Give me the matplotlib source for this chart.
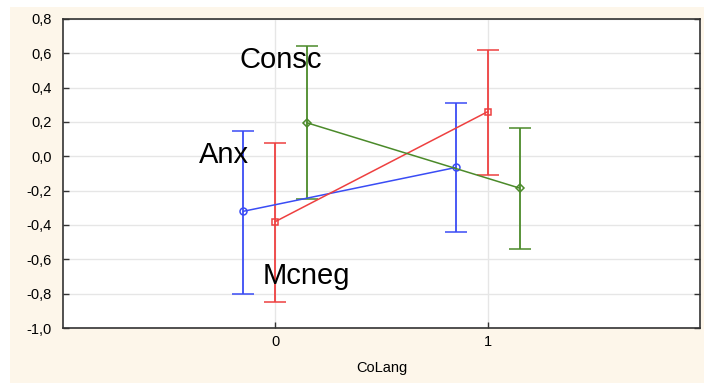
import matplotlib.pyplot as plt
from matplotlib.patches import Rectangle

# group means and interval bounds for each factor at CoLang = 0 / 1
LEVELS = [0, 1]
SERIES = ["Anx", "Mcneg", "Consc"]
OFFSETS = [-0.15, 0.0, 0.15]
MEANS = {
    "Anx": [-0.32, -0.065],
    "Mcneg": [-0.38, 0.26],
    "Consc": [0.195, -0.185],
}
UPPER = {
    "Anx": [0.145, 0.31],
    "Mcneg": [0.075, 0.62],
    "Consc": [0.64, 0.165],
}
LOWER = {
    "Anx": [-0.80, -0.44],
    "Mcneg": [-0.85, -0.11],
    "Consc": [-0.25, -0.54],
}
COLORS = {"Anx": "#3a4cf5", "Mcneg": "#ee4040", "Consc": "#4b8a2a"}
MARKERS = {"Anx": "o", "Mcneg": "s", "Consc": "D"}
LABEL_POS = {"Anx": (-0.36, 0.01), "Mcneg": (-0.06, -0.70), "Consc": (-0.17, 0.56)}
Y_TICKS = [-1.0, -0.8, -0.6, -0.4, -0.2, 0.0, 0.2, 0.4, 0.6, 0.8]

plt.rcParams["font.family"] = ["Liberation Sans", "DejaVu Sans"]

fig = plt.figure(figsize=(7.04, 3.83), dpi=100)
fig.patches.append(Rectangle((10 / 704, 0), 1, 1 - 7 / 383, transform=fig.transFigure,
                             facecolor="#fdf6ea", edgecolor="none", zorder=-10))
ax = fig.add_axes([63 / 704, 55 / 383, 637 / 704, 309 / 383])
ax.set_facecolor("white")

for name, off in zip(SERIES, OFFSETS):
    xs = [lv + off for lv in LEVELS]
    ys = MEANS[name]
    err_lo = [m - lo for m, lo in zip(ys, LOWER[name])]
    err_hi = [hi - m for m, hi in zip(ys, UPPER[name])]
    ax.errorbar(xs, ys, yerr=[err_lo, err_hi], color=COLORS[name], linewidth=1.1,
                elinewidth=1.3, capsize=8, capthick=1.3, marker=MARKERS[name],
                markersize=5 if name != "Consc" else 4.5, markerfacecolor="none",
                markeredgecolor=COLORS[name], markeredgewidth=1.1, zorder=3)
    tx, ty = LABEL_POS[name]
    ax.text(tx, ty, name, fontsize=21, va="center", ha="left", zorder=4)

ax.set_xlim(-1, 2)
ax.set_ylim(-1.0, 0.8)
ax.set_xticks(LEVELS)
ax.set_xticklabels([str(v) for v in LEVELS])
ax.set_yticks(Y_TICKS)
ax.set_yticklabels([f"{v:.1f}".replace(".", ",") for v in Y_TICKS])
ax.grid(True, color="#e6e6e6", linewidth=1, zorder=0)
ax.set_axisbelow(True)
ax.tick_params(direction="in", length=4, width=1, color="#333333", labelsize=10.5,
               right=True, pad=8)
ax.tick_params(axis="x", pad=5)
for spine in ax.spines.values():
    spine.set_color("#333333")
    spine.set_linewidth(1.2)
ax.set_xlabel("CoLang", fontsize=10.5, labelpad=9)

fig.savefig("out.png", dpi=100)
